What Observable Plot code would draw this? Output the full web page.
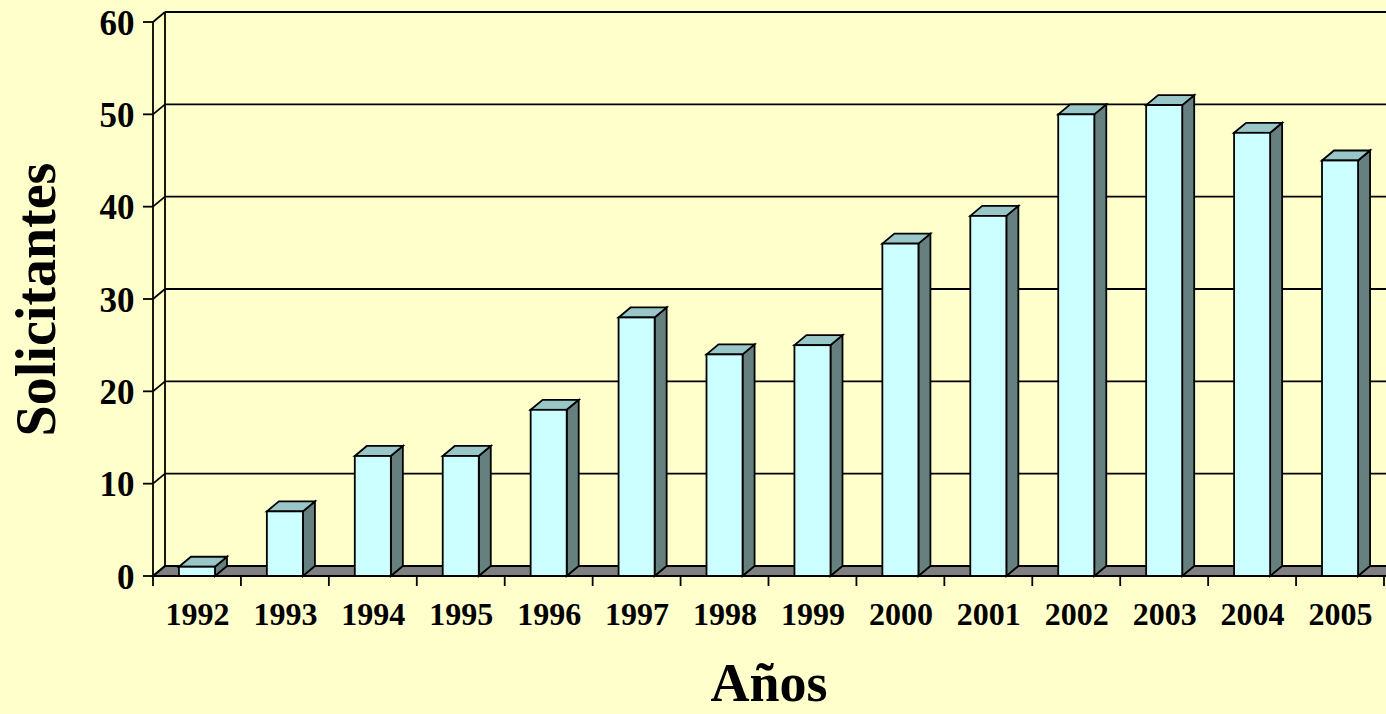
<!DOCTYPE html>
<html><head><meta charset="utf-8">
<script src="https://cdn.jsdelivr.net/npm/d3@7"></script>
<script src="https://cdn.jsdelivr.net/npm/@observablehq/plot@0.6"></script>
<style>html,body{margin:0;padding:0;background:#FFFFCC;overflow:hidden}</style>
</head><body><div id="chart"></div>
<script>
const years = ["1992","1993","1994","1995","1996","1997","1998","1999","2000","2001","2002","2003","2004","2005"];
const solicitantes = [1,7,13,13,18,28,24,25,36,39,50,51,48,45];
const yTicks = [0,10,20,30,40,50,60];
const yTitle = "Solicitantes";
const xTitle = "Años";

const data = years.map((year, i) => ({year, value: solicitantes[i]}));

const DX = 12, DY = 10;
const SW = 1.8;
const FONT = "'Liberation Serif','Times New Roman',serif";
const C_FRONT = "#CCFFFF", C_TOP = "#99C6C6", C_SIDE = "#668080", C_FLOOR = "#808080";

function bandGeom(x) {
  let step = typeof x.step === "function" ? x.step() : (x(years[1]) - x(years[0]));
  let bw = typeof x.bandwidth === "function" ? x.bandwidth() : step * 0.41;
  return {step, bw};
}

// back wall, side-wall gridlines, floor, y ticks
function walls(index, scales, values, dim) {
  const {x, y} = scales;
  const x0 = dim.marginLeft;
  const xEnd = dim.width - dim.marginRight;
  const g = d3.create("svg:g").attr("fill", "none").attr("stroke", "black").attr("stroke-width", SW);
  const ymax = y(d3.max(yTicks)), y0 = y(0);
  g.append("path")
    .attr("d", `M${x0},${y0}L${xEnd + 40},${y0}L${xEnd + 40 + DX},${y0 - DY}L${x0 + DX},${y0 - DY}Z`)
    .attr("fill", C_FLOOR);
  for (const t of yTicks) {
    const yy = y(t);
    if (t > 0) g.append("line").attr("x1", x0 + DX).attr("x2", xEnd + 40).attr("y1", yy - DY).attr("y2", yy - DY);
    g.append("line").attr("x1", x0).attr("x2", x0 + DX).attr("y1", yy).attr("y2", yy - DY);
    g.append("line").attr("x1", x0 - 10).attr("x2", x0).attr("y1", yy).attr("y2", yy);
  }
  g.append("line").attr("x1", x0 + DX).attr("x2", x0 + DX).attr("y1", ymax - DY).attr("y2", y0 - DY);
  return g.node();
}

function frontAxes(index, scales, values, dim) {
  const {x, y} = scales;
  const {step, bw} = bandGeom(x);
  const x0 = dim.marginLeft;
  const ymax = y(d3.max(yTicks)), y0 = y(0);
  const g = d3.create("svg:g").attr("fill", "none").attr("stroke", "black").attr("stroke-width", SW);
  g.append("line").attr("x1", x0).attr("x2", x0).attr("y1", ymax).attr("y2", y0);
  g.append("line").attr("x1", x0).attr("x2", dim.width).attr("y1", y0).attr("y2", y0);
  const edges = years.map(yr => x(yr) - (step - bw) / 2);
  edges.push(x(years[years.length - 1]) + bw + (step - bw) / 2);
  for (const xx of edges) {
    g.append("line").attr("x1", xx).attr("x2", xx).attr("y1", y0).attr("y2", y0 + 10);
  }
  return g.node();
}

function bars3d(index, scales, values, dim) {
  const {x, y} = scales;
  const {bw} = bandGeom(x);
  const g = d3.create("svg:g").attr("stroke", "black").attr("stroke-width", SW).attr("stroke-linejoin", "miter");
  for (const d of data) {
    const xl = x(d.year), xr = xl + bw, yt = y(d.value), yb = y(0);
    g.append("path").attr("fill", C_SIDE)
      .attr("d", `M${xr},${yt}L${xr + DX},${yt - DY}L${xr + DX},${yb - DY}L${xr},${yb}Z`);
    g.append("path").attr("fill", C_TOP)
      .attr("d", `M${xl},${yt}L${xl + DX},${yt - DY}L${xr + DX},${yt - DY}L${xr},${yt}Z`);
  }
  return g.node();
}

const chart = Plot.plot({
  width: 1386,
  height: 714,
  marginLeft: 153,
  marginRight: 2,
  marginTop: 22,
  marginBottom: 138,
  style: {background: "#FFFFCC", fontFamily: FONT, overflow: "hidden"},
  x: {type: "band", domain: years, paddingInner: 0.59, paddingOuter: 0.295, round: false, axis: null},
  y: {domain: [0, 60], axis: null},
  marks: [
    walls,
    bars3d,
    Plot.barY(data, {x: "year", y: "value", fill: C_FRONT, stroke: "black", strokeWidth: SW}),
    frontAxes,
    Plot.text(data, {x: "year", y: () => 0, text: "year", dy: 38, fontSize: 32, fontWeight: "bold", fill: "black"}),
    Plot.text(yTicks, {y: d => d, text: d => String(d), frameAnchor: "left", textAnchor: "end", dx: -19, dy: 1, fontSize: 35, fontWeight: "bold", fill: "black"}),
    Plot.text([yTitle], {text: d => d, frameAnchor: "left", textAnchor: "middle", dx: -116, rotate: -90, fontSize: 56, fontWeight: "bold", fill: "black"}),
    Plot.text([xTitle], {text: d => d, frameAnchor: "bottom", textAnchor: "middle", dy: 124, fontSize: 54, fontWeight: "bold", fill: "black"})
  ]
});
document.getElementById("chart").append(chart);
</script>
</body></html>
